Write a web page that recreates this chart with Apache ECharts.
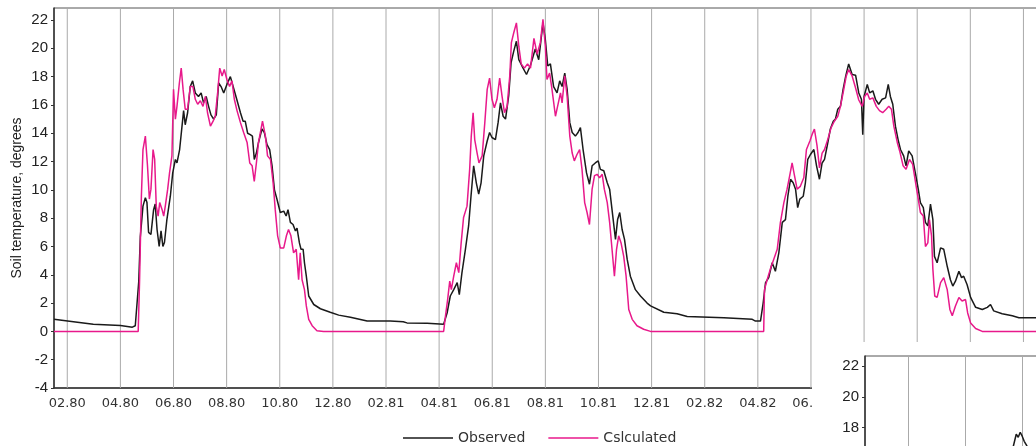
<!DOCTYPE html>
<html>
<head>
<meta charset="utf-8">
<script src="https://cdn.jsdelivr.net/npm/echarts@6.0.0/dist/echarts.min.js"></script>
<style>
  html, body { margin: 0; padding: 0; width: 1036px; height: 446px; overflow: hidden; background: #fff; }
  #main { position: absolute; left: 0; top: 0; width: 1036px; height: 446px; }
  #insetBox { position: absolute; left: 812px; top: 342px; width: 224px; height: 104px; overflow: hidden; background: #fff; }
  #inset { width: 224px; height: 450px; }
</style>
</head>
<body>
<div id="main"></div>
<div id="insetBox"><div id="inset"></div></div>
<script>
// x = months counted from February 1980 (0 -> 02.80), y = soil temperature in degrees
const monthTicks = [0, 2, 4, 6, 8, 10, 12, 14, 16, 18, 20, 22, 24, 26, 28, 30, 32, 34, 36];
const tickLabels = ['02.80', '04.80', '06.80', '08.80', '10.80', '12.80',
                    '02.81', '04.81', '06.81', '08.81', '10.81', '12.81',
                    '02.82', '04.82', '06.82', '08.82', '10.82', '12.82', '02.83'];
const tempTicks = [-4, -2, 0, 2, 4, 6, 8, 10, 12, 14, 16, 18, 20, 22];
const insetTicks = [0, 2, 4];

const X_MIN = -0.5, X_MAX = 37;
const Y_MIN = -4, Y_MAX = 22.85;

const observed = [
  [-0.5, 0.85], [0.38, 0.65], [0.98, 0.5], [2.0, 0.42], [2.45, 0.3], [2.56, 0.4], [2.62, 0.4],
  [2.69, 3.5], [2.75, 6.7], [2.85, 8.85], [2.94, 9.45], [3.0, 9.1], [3.06, 7.0], [3.15, 6.85],
  [3.25, 8.6], [3.31, 9.0], [3.38, 7.2], [3.46, 6.0], [3.53, 7.1], [3.6, 6.0], [3.66, 6.3],
  [3.75, 7.9], [3.88, 9.55], [3.97, 11.2], [4.07, 12.15], [4.13, 11.9], [4.23, 12.85], [4.32, 14.5],
  [4.38, 15.6], [4.44, 14.6], [4.53, 15.45], [4.63, 17.3], [4.72, 17.7], [4.82, 16.85], [4.94, 16.6],
  [5.04, 16.85], [5.13, 16.15], [5.23, 16.6], [5.32, 15.9], [5.41, 15.3], [5.51, 15.0], [5.61, 15.3],
  [5.7, 17.55], [5.79, 17.3], [5.89, 16.85], [6.01, 17.45], [6.14, 18.0], [6.26, 17.2], [6.38, 16.4],
  [6.45, 16.4], [6.52, 15.45], [6.62, 14.85], [6.7, 14.85], [6.79, 14.0], [6.89, 13.9], [6.97, 13.8],
  [7.04, 12.15], [7.12, 12.6], [7.2, 13.35], [7.33, 14.3], [7.42, 14.05], [7.52, 13.2], [7.62, 12.85],
  [7.71, 11.7], [7.8, 10.0], [7.9, 9.3], [8.02, 8.4], [8.15, 8.5], [8.24, 8.15], [8.31, 8.6],
  [8.4, 7.7], [8.5, 7.55], [8.59, 7.1], [8.65, 7.3], [8.74, 6.25], [8.8, 5.8], [8.88, 5.8],
  [8.93, 4.85], [9.0, 3.9], [9.09, 2.5], [9.28, 1.9], [9.53, 1.6], [9.9, 1.35], [10.22, 1.15],
  [10.66, 1.0], [11.29, 0.73], [12.16, 0.73], [12.65, 0.68], [12.79, 0.6], [13.55, 0.57], [14.17, 0.5],
  [14.3, 1.3], [14.42, 2.5], [14.55, 2.95], [14.68, 3.45], [14.76, 2.6], [14.86, 4.15], [14.99, 5.8],
  [15.11, 7.45], [15.2, 9.55], [15.3, 11.7], [15.4, 10.5], [15.49, 9.7], [15.58, 10.5], [15.68, 12.4],
  [15.81, 13.45], [15.9, 14.05], [15.99, 13.7], [16.12, 13.55], [16.22, 14.75], [16.31, 16.15], [16.41, 15.2],
  [16.5, 15.0], [16.62, 16.65], [16.71, 19.0], [16.81, 19.8], [16.91, 20.5], [17.0, 19.2], [17.12, 18.75],
  [17.29, 18.15], [17.44, 18.8], [17.62, 19.95], [17.75, 19.2], [17.91, 21.8], [18.0, 20.6], [18.09, 18.75],
  [18.19, 18.9], [18.31, 17.3], [18.44, 16.85], [18.54, 17.7], [18.63, 17.3], [18.73, 18.25], [18.82, 17.1],
  [18.92, 14.75], [19.01, 14.05], [19.13, 13.8], [19.23, 14.05], [19.32, 14.4], [19.42, 12.85], [19.55, 11.2],
  [19.66, 10.4], [19.76, 11.7], [19.88, 11.9], [19.99, 12.05], [20.07, 11.45], [20.2, 11.35], [20.33, 10.5],
  [20.42, 10.05], [20.51, 8.6], [20.64, 6.5], [20.72, 7.9], [20.8, 8.4], [20.89, 7.2], [20.98, 6.5],
  [21.08, 5.1], [21.2, 3.9], [21.39, 2.95], [21.58, 2.5], [21.83, 2.0], [21.96, 1.8], [22.46, 1.35],
  [22.96, 1.25], [23.34, 1.05], [24.72, 0.97], [25.79, 0.85], [25.91, 0.73], [26.1, 0.73],
  [26.2, 2.0], [26.29, 3.45], [26.41, 3.8], [26.54, 4.85], [26.66, 4.25], [26.79, 5.55], [26.92, 7.7],
  [27.04, 7.9], [27.13, 9.55], [27.23, 10.75], [27.33, 10.5], [27.42, 10.05], [27.5, 8.75], [27.58, 9.35],
  [27.71, 9.55], [27.79, 10.5], [27.88, 12.15], [27.98, 12.5], [28.11, 12.85], [28.21, 11.7], [28.32, 10.75],
  [28.42, 11.9], [28.51, 12.15], [28.61, 13.1], [28.73, 14.3], [28.84, 14.85], [28.92, 15.0], [29.01, 15.7],
  [29.11, 15.9], [29.21, 17.1], [29.31, 18.05], [29.42, 18.9], [29.55, 18.15], [29.68, 18.1], [29.8, 16.85],
  [29.9, 16.4], [29.95, 13.9], [30.0, 16.6], [30.12, 17.45], [30.21, 16.85], [30.33, 17.0], [30.43, 16.4],
  [30.55, 16.05], [30.68, 16.4], [30.81, 16.5], [30.91, 17.45], [30.99, 16.6], [31.08, 16.05], [31.18, 14.5],
  [31.28, 13.55], [31.37, 12.85], [31.49, 12.4], [31.58, 11.7], [31.68, 12.75], [31.81, 12.4], [31.94, 11.1],
  [32.04, 10.05], [32.12, 9.1], [32.23, 8.75], [32.31, 7.7], [32.4, 7.45], [32.5, 9.0], [32.59, 7.9],
  [32.65, 5.3], [32.75, 4.85], [32.88, 5.9], [33.0, 5.8], [33.13, 4.6], [33.25, 3.65], [33.34, 3.2],
  [33.44, 3.55], [33.57, 4.25], [33.67, 3.8], [33.75, 3.9], [33.88, 3.3], [34.01, 2.4], [34.2, 1.7],
  [34.45, 1.55], [34.64, 1.7], [34.76, 1.9], [34.88, 1.45], [35.2, 1.25], [35.58, 1.1], [35.83, 0.97],
  [36.49, 0.97], [37.0, 0.95]
];

const calculated = [
  [-0.5, 0], [2.67, 0], [2.72, 3.45], [2.79, 9.55], [2.85, 12.85], [2.94, 13.8], [3.02, 11.7],
  [3.09, 9.35], [3.15, 10.05], [3.23, 12.85], [3.29, 12.15], [3.35, 8.85], [3.42, 8.15], [3.48, 9.1],
  [3.57, 8.6], [3.63, 8.15], [3.69, 8.85], [3.78, 10.05], [3.85, 11.2], [3.94, 12.4], [4.0, 17.1],
  [4.07, 15.0], [4.13, 15.9], [4.22, 17.55], [4.29, 18.6], [4.36, 17.1], [4.44, 15.7], [4.53, 15.7],
  [4.63, 17.3], [4.73, 17.3], [4.82, 16.4], [4.91, 16.05], [5.01, 16.3], [5.11, 15.9], [5.2, 16.6],
  [5.28, 15.45], [5.39, 14.5], [5.49, 14.85], [5.57, 15.2], [5.66, 16.85], [5.74, 18.6], [5.83, 18.05],
  [5.91, 18.5], [6.01, 17.8], [6.11, 17.3], [6.2, 17.7], [6.29, 16.4], [6.39, 15.6], [6.52, 14.75],
  [6.64, 14.05], [6.77, 13.35], [6.87, 11.9], [6.96, 11.7], [7.04, 10.6], [7.12, 11.9], [7.2, 13.35],
  [7.35, 14.85], [7.46, 13.8], [7.54, 12.4], [7.65, 12.15], [7.75, 10.5], [7.83, 8.6], [7.92, 6.75],
  [8.02, 5.9], [8.15, 5.9], [8.25, 6.75], [8.33, 7.2], [8.42, 6.75], [8.52, 5.55], [8.62, 5.8],
  [8.71, 3.65], [8.77, 5.55], [8.84, 3.65], [8.93, 2.95], [9.0, 1.8], [9.09, 0.85], [9.22, 0.4],
  [9.4, 0.05], [9.65, 0], [14.17, 0],
  [14.24, 1.1], [14.32, 2.25], [14.4, 3.55], [14.46, 2.95], [14.55, 3.9], [14.65, 4.85], [14.74, 4.15],
  [14.83, 6.25], [14.92, 8.05], [15.05, 8.85], [15.15, 11.45], [15.21, 13.8], [15.28, 15.45], [15.34, 13.55],
  [15.43, 12.6], [15.5, 11.9], [15.62, 12.4], [15.72, 14.75], [15.81, 17.1], [15.9, 17.9], [15.99, 16.4],
  [16.08, 15.8], [16.18, 16.4], [16.28, 17.9], [16.37, 16.6], [16.46, 15.45], [16.56, 15.9], [16.66, 18.05],
  [16.72, 20.4], [16.81, 21.1], [16.91, 21.8], [17.0, 20.15], [17.09, 18.9], [17.21, 18.6], [17.33, 18.9],
  [17.44, 18.6], [17.57, 20.7], [17.69, 19.6], [17.81, 20.4], [17.91, 22.05], [18.0, 20.15], [18.06, 17.8],
  [18.16, 18.25], [18.25, 17.1], [18.38, 15.2], [18.46, 15.9], [18.57, 16.85], [18.63, 16.15], [18.73, 18.05],
  [18.82, 16.6], [18.92, 13.8], [19.01, 12.6], [19.09, 12.05], [19.19, 12.5], [19.29, 12.85], [19.38, 11.45],
  [19.48, 9.1], [19.57, 8.4], [19.66, 7.55], [19.76, 10.05], [19.85, 11.0], [19.95, 11.1], [20.04, 10.85],
  [20.14, 11.1], [20.22, 10.05], [20.33, 9.1], [20.42, 7.7], [20.51, 5.8], [20.6, 3.9], [20.68, 5.8],
  [20.76, 6.75], [20.85, 6.25], [20.95, 5.3], [21.04, 3.9], [21.14, 1.55], [21.27, 0.85], [21.45, 0.4],
  [21.7, 0.15], [21.96, 0], [26.22, 0],
  [26.25, 2.95], [26.35, 3.65], [26.47, 4.4], [26.6, 5.1], [26.73, 5.8], [26.85, 7.7], [26.98, 9.1],
  [27.1, 10.05], [27.2, 11.0], [27.29, 11.9], [27.38, 11.0], [27.48, 10.05], [27.6, 10.25], [27.73, 10.85],
  [27.83, 12.85], [27.96, 13.45], [28.04, 13.9], [28.13, 14.3], [28.23, 13.1], [28.32, 11.55], [28.42, 12.6],
  [28.51, 12.85], [28.63, 13.55], [28.76, 14.4], [28.88, 14.85], [29.01, 15.2], [29.11, 15.9], [29.21, 16.85],
  [29.33, 18.05], [29.42, 18.5], [29.55, 18.05], [29.68, 17.2], [29.8, 16.35], [29.93, 15.9], [30.02, 16.6],
  [30.12, 16.85], [30.21, 16.4], [30.33, 16.5], [30.46, 15.9], [30.58, 15.6], [30.7, 15.45], [30.83, 15.7],
  [30.93, 15.9], [31.03, 15.7], [31.12, 14.5], [31.25, 13.35], [31.34, 12.75], [31.47, 11.7], [31.58, 11.45],
  [31.71, 12.15], [31.83, 11.8], [31.94, 10.5], [32.04, 9.35], [32.12, 8.4], [32.23, 8.15], [32.31, 6.0],
  [32.4, 6.25], [32.46, 7.9], [32.54, 6.75], [32.59, 4.4], [32.66, 2.5], [32.75, 2.4], [32.88, 3.45],
  [33.0, 3.8], [33.13, 2.95], [33.23, 1.55], [33.32, 1.1], [33.44, 1.8], [33.57, 2.4], [33.69, 2.15],
  [33.82, 2.25], [33.9, 1.3], [34.01, 0.6], [34.2, 0.2], [34.45, 0], [37.0, 0]
];

// second panel (lower right), observed temperature only
const insetObserved = [
  [3.55, 15.2], [3.69, 16.72], [3.8, 17.57], [3.87, 17.37], [3.94, 17.7], [4.01, 17.44],
  [4.08, 17.11], [4.18, 16.79], [4.32, 16.53], [4.5, 15.9]
];

const OBS_COLOR = '#1a1a1a';
const CALC_COLOR = '#e8198b';
const GRID_COLOR = '#aaa';

function monthLabel(v) {
  const i = monthTicks.indexOf(Math.round(v * 1000) / 1000);
  return i >= 0 ? tickLabels[i] : '';
}
function tempLabel(v) {
  return tempTicks.indexOf(v) >= 0 ? String(v) : '';
}

// one vertical gridline per labelled month, placed through the axis scales
function renderGridLine(params, api) {
  const m = api.value(0);
  const top = api.coord([m, Y_MAX]);
  const bottom = api.coord([m, Y_MIN]);
  return {
    type: 'line',
    shape: { x1: top[0], y1: top[1], x2: bottom[0], y2: bottom[1] },
    style: { stroke: GRID_COLOR, lineWidth: 1 },
    silent: true
  };
}

const main = echarts.init(document.getElementById('main'), null, { renderer: 'canvas' });
main.setOption({
  animation: false,
  backgroundColor: '#fff',
  grid: {
    left: 54, right: -14, top: 8, bottom: 58,
    show: true, borderColor: '#555', borderWidth: 1, backgroundColor: 'transparent',
    containLabel: false, outerBoundsMode: 'none'
  },
  legend: {
    data: ['Observed', 'Cslculated'],
    left: 403, top: 431, padding: 0,
    icon: 'rect', itemWidth: 50, itemHeight: 1.5, itemGap: 23,
    textStyle: { fontFamily: 'DejaVu Sans', fontSize: 14, color: '#333' }
  },
  xAxis: {
    type: 'value',
    min: X_MIN, max: X_MAX,
    minInterval: 2, maxInterval: 2, splitNumber: 19,
    axisLine: { show: true, onZero: false, lineStyle: { color: '#333', width: 1.5 } },
    axisTick: { show: false, customValues: monthTicks },
    axisLabel: {
      customValues: monthTicks, formatter: monthLabel, margin: 9,
      fontFamily: 'DejaVu Sans', fontSize: 13, color: '#333'
    },
    splitLine: { show: false }
  },
  yAxis: {
    type: 'value',
    min: Y_MIN, max: Y_MAX, interval: 2,
    name: 'Soil temperature, degrees',
    nameLocation: 'middle', nameGap: 30, nameMoveOverlap: false,
    nameTextStyle: { fontFamily: 'Liberation Sans', fontSize: 14, color: '#222' },
    axisLine: { show: true, onZero: false, lineStyle: { color: '#333', width: 1.5 } },
    axisTick: { show: true, length: 3, customValues: tempTicks, lineStyle: { color: '#333' } },
    axisLabel: {
      customValues: tempTicks, formatter: tempLabel, margin: 6,
      fontFamily: 'Liberation Sans', fontSize: 15, color: '#222'
    },
    splitLine: { show: false }
  },
  series: [
    {
      name: 'monthGrid', type: 'custom', z: 1, silent: true,
      clip: false,
      data: monthTicks.map(function (m) { return [m, 0]; }),
      renderItem: renderGridLine
    },
    {
      name: 'Observed', type: 'line', data: observed, z: 3,
      showSymbol: false, symbol: 'none', silent: true,
      color: OBS_COLOR, lineStyle: { color: OBS_COLOR, width: 1.5 }
    },
    {
      name: 'Cslculated', type: 'line', data: calculated, z: 4,
      showSymbol: false, symbol: 'none', silent: true,
      color: CALC_COLOR, lineStyle: { color: CALC_COLOR, width: 1.5 }
    }
  ]
});

const inset = echarts.init(document.getElementById('inset'), null, { renderer: 'canvas' });
inset.setOption({
  animation: false,
  backgroundColor: '#fff',
  grid: {
    left: 53, right: -43, top: 14, bottom: 27,
    show: true, borderColor: '#555', borderWidth: 1, backgroundColor: 'transparent',
    containLabel: false, outerBoundsMode: 'none'
  },
  xAxis: {
    type: 'value', min: -1.5, max: 6,
    minInterval: 2, maxInterval: 2, splitNumber: 4,
    axisLine: { show: true, onZero: false, lineStyle: { color: '#333', width: 1.5 } },
    axisTick: { show: false, customValues: insetTicks },
    axisLabel: { show: false },
    splitLine: { show: true, lineStyle: { color: GRID_COLOR, width: 1 } }
  },
  yAxis: {
    type: 'value', min: -4, max: 22.67, interval: 2,
    axisLine: { show: true, onZero: false, lineStyle: { color: '#333', width: 1.5 } },
    axisTick: { show: true, length: 3, customValues: tempTicks, lineStyle: { color: '#333' } },
    axisLabel: {
      customValues: tempTicks, formatter: tempLabel, margin: 6,
      fontFamily: 'Liberation Sans', fontSize: 15, color: '#222'
    },
    splitLine: { show: false }
  },
  series: [{
    type: 'line', data: insetObserved,
    showSymbol: false, symbol: 'none', silent: true,
    color: OBS_COLOR, lineStyle: { color: OBS_COLOR, width: 1.5 }
  }]
});
</script>
</body>
</html>
